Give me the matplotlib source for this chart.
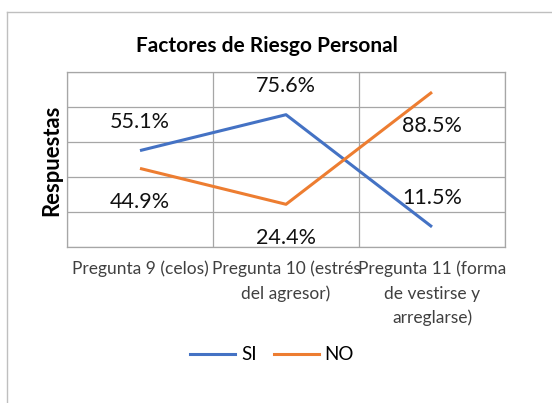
import matplotlib
matplotlib.use("Agg")
import matplotlib.pyplot as plt
from matplotlib.lines import Line2D

categories = ["Pregunta 9 (celos)", "Pregunta 10 (estrés\ndel agresor)", "Pregunta 11 (forma\nde vestirse y\narreglarse)"]
si_values = [55.1, 75.6, 11.5]
no_values = [44.9, 24.4, 88.5]
series_names = ["SI", "NO"]
title = "Factores de Riesgo Personal"
ylabel = "Respuestas"

plt.rcParams['font.family'] = ['Lato', 'DejaVu Sans']

W, H = 552, 403
fig = plt.figure(figsize=(W / 100, H / 100), dpi=100)
ax = fig.add_axes([67 / W, 1 - 247 / H, (505 - 67) / W, (247 - 72) / H])

blue = "#4472C4"
orange = "#ED7D31"
x = list(range(len(categories)))
ax.plot(x, si_values, color=blue, lw=2.2, solid_capstyle='butt')
ax.plot(x, no_values, color=orange, lw=2.2, solid_capstyle='butt')

for xi, v in zip(x, si_values):
    ax.annotate(f"{v:.1f}%", (xi, v), xytext=(0, 29), textcoords='offset pixels',
                ha='center', va='center', fontsize=15.5, color='#111111')
for xi, v in zip(x, no_values):
    ax.annotate(f"{v:.1f}%", (xi, v), xytext=(0, -34), textcoords='offset pixels',
                ha='center', va='center', fontsize=15.5, color='#111111')

ax.set_xlim(-0.5, len(categories) - 0.5)
ax.set_ylim(0, 100)
ax.set_yticks(range(0, 101, 20))
ax.set_yticklabels([])
ax.set_xticks(x)
ax.set_xticklabels(categories, fontsize=12.5, color='#404040', linespacing=1.62)
ax.set_xticks([i - 0.5 for i in range(len(categories) + 1)], minor=True)
ax.tick_params(axis='both', which='both', length=0)
ax.tick_params(axis='x', which='major', pad=10)
ax.grid(True, which='major', axis='y', color='#A6A6A6', lw=0.9)
ax.grid(True, which='minor', axis='x', color='#A6A6A6', lw=0.9)
for s in ax.spines.values():
    s.set_color('#A6A6A6')
    s.set_linewidth(0.9)
ax.set_axisbelow(True)

fig.text(267 / W, 1 - 46 / H, title, ha='center', va='center', fontsize=15, fontweight='bold', color='black')
fig.text(52 / W, 1 - 160 / H, ylabel, ha='center', va='center', rotation=90, fontsize=15.8, fontweight='bold', color='black')

handles = [Line2D([0], [0], color=blue, lw=2.2), Line2D([0], [0], color=orange, lw=2.2)]
fig.legend(handles, series_names, loc='center', bbox_to_anchor=(272 / W, 1 - 355 / H), ncol=2,
           frameon=False, fontsize=13.5, handlelength=2.4, handletextpad=0.3, columnspacing=0.9)

# outer chart border
fig.add_artist(Line2D([7 / W, 1.0], [1 - 12 / H, 1 - 12 / H], color='#BFBFBF', lw=1, transform=fig.transFigure))
fig.add_artist(Line2D([7 / W, 7 / W], [0, 1 - 12 / H], color='#BFBFBF', lw=1, transform=fig.transFigure))

fig.savefig("out.png", dpi=100)
